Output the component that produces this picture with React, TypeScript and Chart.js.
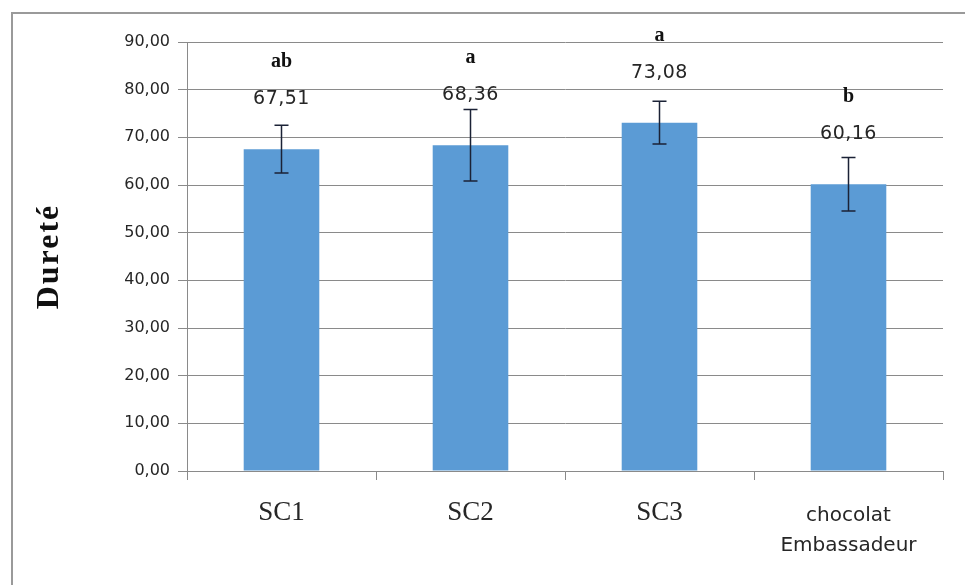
import React, { useEffect, useRef } from "react";
import { Chart, registerables } from "chart.js";

Chart.register(...registerables);

const categories: (string | string[])[] = ["SC1", "SC2", "SC3", ["chocolat", "Embassadeur"]];
const hardness: number[] = [67.51, 68.36, 73.08, 60.16];
const errors: number[] = [5.0, 7.5, 4.5, 5.6];
const letters: string[] = ["ab", "a", "a", "b"];
const yTicksMax = 90;
const yStep = 10;
const yTitle = "Dureté";

const gridColor = "#8a8a8a";
const textColor = "#262626";
const barColor = "#5B9BD5";

const fmt = (v: number) => v.toFixed(2).replace(".", ",");

const annotationsPlugin = {
  id: "annotations",
  afterDatasetsDraw(chart: any) {
    const ctx = chart.ctx as CanvasRenderingContext2D;
    const meta = chart.getDatasetMeta(0);
    const yScale = chart.scales.y;
    ctx.save();
    // error bars
    ctx.strokeStyle = "#1b2236";
    ctx.lineWidth = 1.5;
    meta.data.forEach((bar: any, i: number) => {
      const x = bar.x;
      const yt = yScale.getPixelForValue(hardness[i] + errors[i]);
      const yb = yScale.getPixelForValue(hardness[i] - errors[i]);
      ctx.beginPath();
      ctx.moveTo(x, yt);
      ctx.lineTo(x, yb);
      ctx.moveTo(x - 7, yt);
      ctx.lineTo(x + 7, yt);
      ctx.moveTo(x - 7, yb);
      ctx.lineTo(x + 7, yb);
      ctx.stroke();
    });
    // value labels
    ctx.fillStyle = textColor;
    ctx.textAlign = "center";
    ctx.textBaseline = "middle";
    ctx.font = "19px 'DejaVu Sans'";
    (ctx as any).letterSpacing = "0.5px";
    meta.data.forEach((bar: any, i: number) => {
      ctx.fillText(fmt(hardness[i]), bar.x, bar.y - 50);
    });
    (ctx as any).letterSpacing = "0px";
    ctx.font = "bold 20px 'Liberation Serif'";
    ctx.fillStyle = "#111";
    meta.data.forEach((bar: any, i: number) => {
      ctx.fillText(letters[i], bar.x, bar.y - 87);
    });
    // y axis title
    const cy = (chart.chartArea.top + chart.chartArea.bottom) / 2;
    ctx.translate(50, cy);
    ctx.rotate(-Math.PI / 2);
    ctx.font = "bold 32px 'Liberation Serif'";
    (ctx as any).letterSpacing = "2px";
    ctx.fillText(yTitle, 0, 0);
    ctx.restore();
  },
};

export default function App() {
  const ref = useRef<HTMLCanvasElement | null>(null);
  useEffect(() => {
    if (!ref.current) return;
    const chart = new Chart(ref.current, {
      type: "bar",
      data: {
        labels: categories as any,
        datasets: [
          {
            data: hardness,
            backgroundColor: barColor,
            borderWidth: 0,
            categoryPercentage: 1,
            barPercentage: 0.4,
          },
        ],
      },
      options: {
        animation: false,
        responsive: false,
        devicePixelRatio: 1,
        layout: { padding: { top: 42, right: 22, left: 0, bottom: 0 } },
        plugins: { legend: { display: false }, tooltip: { enabled: false } },
        scales: {
          x: {
            grid: {
              display: true,
              drawOnChartArea: false,
              drawTicks: true,
              tickLength: 9,
              color: gridColor,
              offset: true,
            },
            border: { display: true, color: gridColor, width: 1 },
            ticks: {
              color: textColor,
              padding: 21,
              font: ((c: any) =>
                c.index === 3
                  ? { family: "'DejaVu Sans'", size: 20, lineHeight: 1.5 }
                  : { family: "'Liberation Serif'", size: 27, lineHeight: 0.9 }) as any,
            },
            afterFit: (s: any) => {
              s.height = 114;
            },
          },
          y: {
            min: 0,
            max: yTicksMax,
            ticks: {
              stepSize: yStep,
              color: textColor,
              padding: 8,
              font: { family: "'DejaVu Sans'", size: 16 },
              callback: (v: any) => fmt(Number(v)),
            },
            grid: { color: gridColor, tickLength: 9, lineWidth: 1 },
            border: { display: true, color: gridColor, width: 1 },
            afterFit: (s: any) => {
              s.width = 187;
            },
          },
        },
      },
      plugins: [annotationsPlugin],
    });
    return () => chart.destroy();
  }, []);
  return (
    <div style={{ position: "fixed", left: 0, top: 0, width: 965, height: 585, background: "#fff", overflow: "hidden" }}>
      <div
        style={{
          position: "absolute",
          left: 11,
          top: 12,
          width: 1000,
          height: 700,
          border: "2px solid #9a9a9a",
          boxSizing: "border-box",
        }}
      />
      <canvas ref={ref} width={965} height={585} style={{ position: "absolute", left: 0, top: 0 }} />
    </div>
  );
}
